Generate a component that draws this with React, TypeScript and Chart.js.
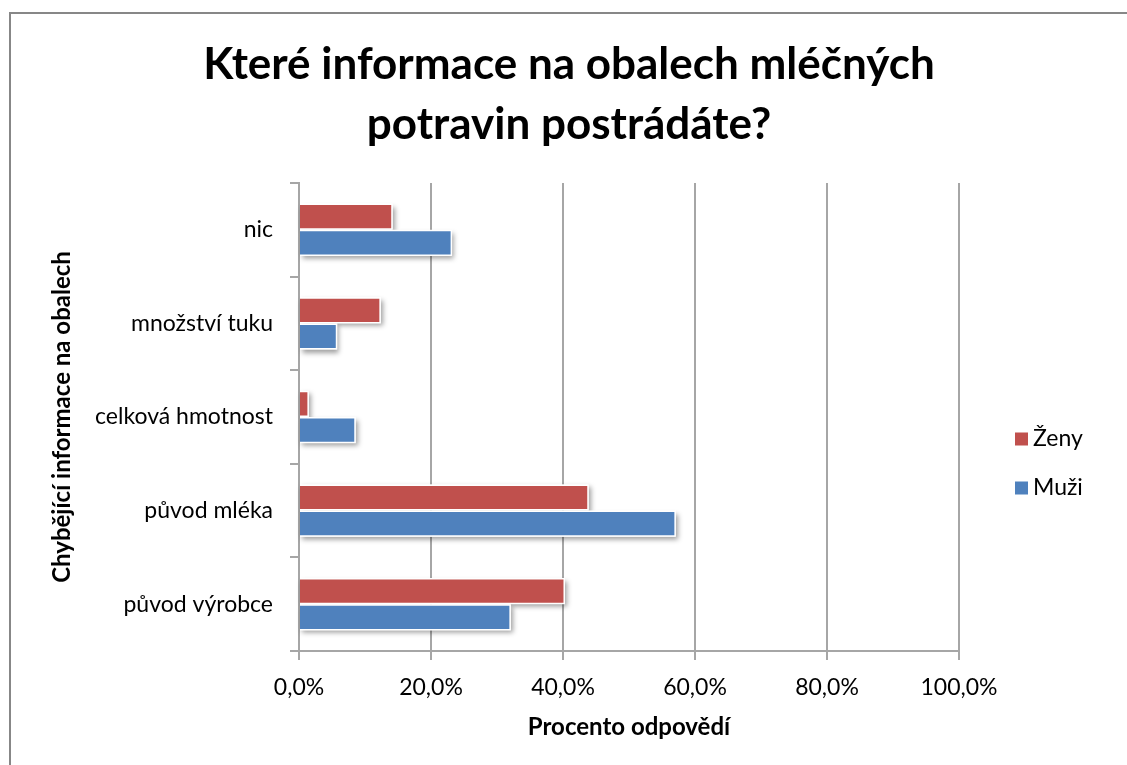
import React, { useEffect, useRef } from 'react';
import { Chart, registerables } from 'chart.js';

Chart.register(...registerables);

const categories = ['nic', 'množství tuku', 'celková hmotnost', 'původ mléka', 'původ výrobce'];
const zenyValues = [14.2, 12.4, 1.5, 43.9, 40.3];
const muziValues = [23.2, 5.8, 8.6, 57.1, 32.1];
const seriesNames = ['Ženy', 'Muži'];
const seriesColors = ['#C0504D', '#4F81BD'];
const xTickValues = [0, 20, 40, 60, 80, 100];
const titleLines = ['Které informace na obalech mléčných', 'potravin postrádáte?'];
const xTitle = 'Procento odpovědí';
const yTitle = 'Chybějící informace na obalech';

const FONT = 'Lato';
const GRID = '#a6a6a6';

const shadowPlugin = {
  id: 'barShadow',
  beforeDatasetsDraw(chart: any) {
    const ctx = chart.ctx;
    ctx.save();
    ctx.shadowColor = 'rgba(0,0,0,0.38)';
    ctx.shadowBlur = 5;
    ctx.shadowOffsetX = 2;
    ctx.shadowOffsetY = 3;
    ctx.fillStyle = '#ffffff';
    chart.data.datasets.forEach((_ds: any, i: number) => {
      const meta = chart.getDatasetMeta(i);
      meta.data.forEach((el: any) => {
        const p = el.getProps(['x', 'y', 'base', 'height'], true);
        ctx.fillRect(Math.min(p.base, p.x), p.y - p.height / 2, Math.abs(p.x - p.base), p.height);
      });
    });
    ctx.restore();
  },
};

const legendPlugin = {
  id: 'sideLegend',
  afterDraw(chart: any) {
    const ctx = chart.ctx;
    const area = chart.chartArea;
    ctx.save();
    ctx.font = `23px ${FONT}`;
    ctx.textBaseline = 'middle';
    ctx.textAlign = 'left';
    chart.data.datasets.forEach((ds: any, i: number) => {
      const cy = area.top + 256 + i * 49;
      const sx = area.right + 56;
      ctx.fillStyle = ds.backgroundColor;
      ctx.fillRect(sx, cy - 6.5, 13, 13);
      ctx.fillStyle = '#000';
      ctx.fillText(ds.label, sx + 18, cy);
    });
    ctx.restore();
  },
};

export default function App() {
  const ref = useRef<HTMLCanvasElement>(null);

  useEffect(() => {
    if (!ref.current) return;
    const chart = new Chart(ref.current, {
      type: 'bar',
      data: {
        labels: categories,
        datasets: [
          {
            label: seriesNames[0],
            data: zenyValues,
            backgroundColor: seriesColors[0],
            borderColor: '#ffffff',
            borderWidth: 1.5,
          },
          {
            label: seriesNames[1],
            data: muziValues,
            backgroundColor: seriesColors[1],
            borderColor: '#ffffff',
            borderWidth: 1.5,
          },
        ],
      },
      options: {
        indexAxis: 'y',
        responsive: false,
        animation: false,
        devicePixelRatio: 1,
        datasets: {
          bar: { categoryPercentage: 0.56, barPercentage: 1.0 },
        },
        layout: { padding: 0 },
        plugins: {
          legend: { display: false },
          tooltip: { enabled: false },
          title: {
            display: true,
            text: titleLines,
            color: '#000',
            font: { family: FONT, size: 44, weight: 'bold', lineHeight: 60 / 44 },
            padding: { top: 21, bottom: 28 },
          },
        },
        scales: {
          x: {
            min: 0,
            max: 100,
            afterBuildTicks(scale: any) {
              scale.ticks = xTickValues.map((v) => ({ value: v }));
            },
            afterFit(scale: any) {
              scale.height = 114;
            },
            ticks: {
              color: '#000',
              font: { family: FONT, size: 23 },
              padding: 14,
              maxRotation: 0,
              callback: (v: any) => Number(v).toFixed(1).replace('.', ',') + '%',
            },
            grid: { color: GRID, lineWidth: 2, tickLength: 9 },
            border: { color: GRID, width: 2 },
            title: {
              display: true,
              text: xTitle,
              color: '#000',
              font: { family: FONT, size: 24, weight: 'bold' },
              padding: { top: 0, bottom: 23.6 },
            },
          },
          y: {
            afterFit(scale: any) {
              scale.width = 288;
            },
            ticks: {
              color: '#000',
              font: { family: FONT, size: 23 },
              padding: 17,
            },
            grid: { color: GRID, lineWidth: 2, tickLength: 9, drawOnChartArea: false, offset: true },
            border: { color: GRID, width: 2 },
            title: {
              display: true,
              text: yTitle,
              color: '#000',
              font: { family: FONT, size: 24, weight: 'bold' },
              padding: { top: 36.6, bottom: 0 },
            },
          },
          spacer: {
            type: 'linear',
            position: 'right',
            display: true,
            grid: { display: false },
            ticks: { display: false },
            border: { display: false },
            afterFit(scale: any) {
              scale.width = 168;
            },
          },
        },
      } as any,
      plugins: [shadowPlugin, legendPlugin],
    });
    return () => chart.destroy();
  }, []);

  return (
    <div
      style={{
        position: 'absolute',
        left: 9,
        top: 12,
        width: 1118,
        height: 753,
        borderLeft: '2px solid #878787',
        borderTop: '2px solid #878787',
        boxSizing: 'border-box',
        background: '#fff',
        overflow: 'hidden',
      }}
    >
      <canvas ref={ref} width={1116} height={751} style={{ display: 'block' }} />
    </div>
  );
}
